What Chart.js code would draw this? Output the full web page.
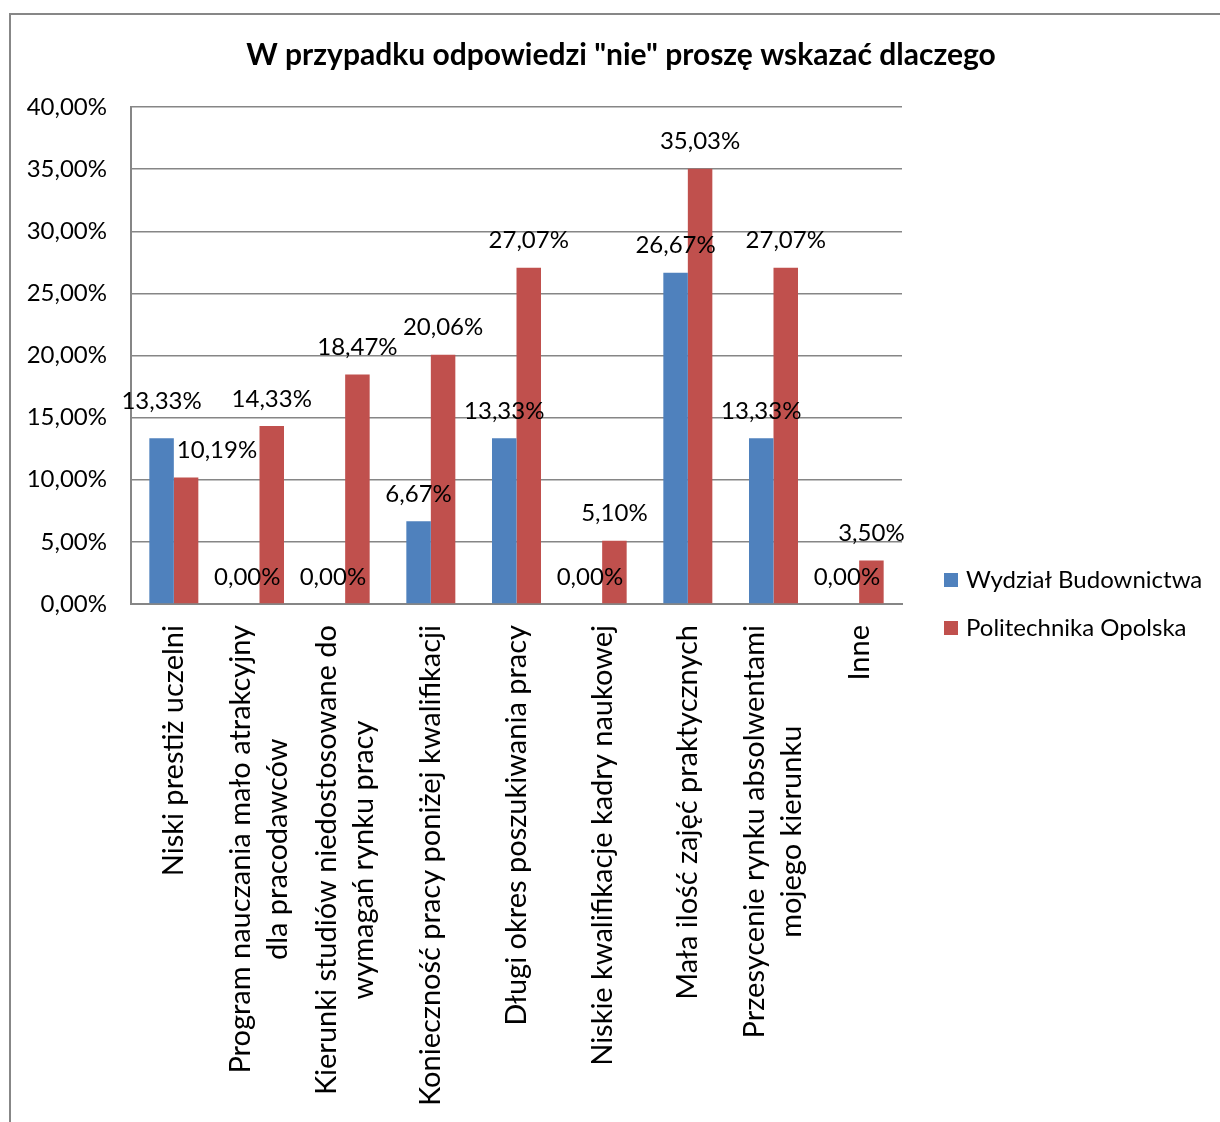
<!DOCTYPE html>
<html>
<head>
<meta charset="utf-8">
<script src="https://cdn.jsdelivr.net/npm/chart.js@4/dist/chart.umd.min.js"></script>
<style>
  html, body { margin: 0; padding: 0; background: #fff; overflow: hidden; }
  #wrap { position: relative; width: 1220px; height: 1122px; }
</style>
</head>
<body>
<div id="wrap"><canvas id="c" width="1220" height="1122"></canvas></div>
<script>
const chartTitle = 'W przypadku odpowiedzi "nie" proszę wskazać dlaczego';
const categories = [
  ['Niski prestiż uczelni'],
  ['Program nauczania mało atrakcyjny', 'dla pracodawców'],
  ['Kierunki studiów niedostosowane do', 'wymagań rynku pracy'],
  ['Konieczność pracy poniżej kwalifikacji'],
  ['Długi okres poszukiwania pracy'],
  ['Niskie kwalifikacje kadry naukowej'],
  ['Mała ilość zajęć praktycznych'],
  ['Przesycenie rynku absolwentami', 'mojego kierunku'],
  ['Inne']
];
const seriesNames = ['Wydział Budownictwa', 'Politechnika Opolska'];
const wydzialBudownictwa = [13.33, 0.00, 0.00, 6.67, 13.33, 0.00, 26.67, 13.33, 0.00];
const politechnikaOpolska = [10.19, 14.33, 18.47, 20.06, 27.07, 5.10, 35.03, 27.07, 3.50];
const yMin = 0, yMax = 40, yStep = 5;

const FONT = 'Lato, "Noto Sans", sans-serif';
const fmt = v => v.toFixed(2).replace('.', ',') + '%';

const decorPlugin = {
  id: 'decor',
  beforeDraw(chart) {
    const ctx = chart.ctx;
    ctx.save();
    ctx.fillStyle = '#878787';
    ctx.fillRect(9, 13, 1211, 2);
    ctx.fillRect(9, 13, 2, 1109);
    ctx.restore();
  },
  afterDatasetsDraw(chart) {
    const ctx = chart.ctx;
    ctx.save();
    ctx.font = '24px ' + FONT;
    ctx.fillStyle = '#000';
    ctx.textAlign = 'center';
    ctx.textBaseline = 'middle';
    const m0 = chart.getDatasetMeta(0), m1 = chart.getDatasetMeta(1);
    const n = m0.data.length;
    for (let i = 0; i < n; i++) {
      const b0 = m0.data[i], b1 = m1.data[i];
      const v0 = chart.data.datasets[0].data[i], v1 = chart.data.datasets[1].data[i];
      let x0 = b0.x, y0 = b0.y - 27;
      let x1 = b1.x, y1 = b1.y - 27;
      const w1 = ctx.measureText(fmt(v1)).width;
      // avoid covering the neighbouring bar of the first series
      const left1 = x1 - w1 / 2;
      const b0right = b0.x + b0.width / 2;
      if (left1 < b0right && y1 + 11 > b0.y) {
        x1 = b0right + 3 + w1 / 2;
        y0 -= 10;
      }
      ctx.fillText(fmt(v0), x0, y0);
      ctx.fillText(fmt(v1), x1, y1);
    }
    ctx.restore();
  },
  afterDraw(chart) {
    const ctx = chart.ctx;
    const area = chart.chartArea;
    const xs = chart.scales.x;
    ctx.save();
    // title
    ctx.font = 'bold 30px ' + FONT;
    ctx.fillStyle = '#000';
    ctx.textAlign = 'center';
    ctx.textBaseline = 'middle';
    ctx.fillText(chartTitle, 621, 55);
    // category labels
    ctx.font = '29px ' + FONT;
    const pitch = 37;
    categories.forEach((lines, i) => {
      const x = xs.getPixelForValue(i);
      let bw = 0;
      lines.forEach(l => { bw = Math.max(bw, ctx.measureText(l).width); });
      ctx.save();
      ctx.translate(x, area.bottom + 21);
      ctx.rotate(-Math.PI / 2);
      lines.forEach((l, j) => {
        ctx.fillText(l, -bw / 2, (j - (lines.length - 1) / 2) * pitch);
      });
      ctx.restore();
    });
    // legend
    ctx.font = '24px ' + FONT;
    chart.data.datasets.forEach((ds, i) => {
      const cy = area.bottom - 24 + i * 48;
      ctx.fillStyle = ds.backgroundColor;
      ctx.fillRect(area.right + 42, cy - 7, 14, 14);
      ctx.fillStyle = '#000';
      ctx.textAlign = 'left';
      ctx.fillText(ds.label, area.right + 64, cy);
    });
    ctx.restore();
  }
};

new Chart(document.getElementById('c'), {
  type: 'bar',
  data: {
    labels: categories.map(c => c.join(' ')),
    datasets: [
      { label: seriesNames[0], data: wydzialBudownictwa, backgroundColor: '#4F81BD', borderWidth: 0 },
      { label: seriesNames[1], data: politechnikaOpolska, backgroundColor: '#C0504D', borderWidth: 0 }
    ]
  },
  options: {
    responsive: false,
    animation: false,
    devicePixelRatio: 1,
    layout: { padding: { top: 107, right: 318, bottom: 0, left: 0 } },
    plugins: { legend: { display: false }, title: { display: false }, tooltip: { enabled: false } },
    datasets: { bar: { categoryPercentage: 0.572, barPercentage: 1.0 } },
    scales: {
      x: {
        grid: { display: false, drawTicks: false },
        border: { display: true, color: '#868686', width: 2 },
        ticks: { display: false },
        afterFit: s => { s.height = 518; }
      },
      y: {
        min: yMin, max: yMax,
        grid: { color: '#868686', lineWidth: 1.5, drawTicks: false },
        border: { display: true, color: '#868686', width: 2 },
        ticks: {
          stepSize: yStep,
          padding: 24,
          color: '#000',
          font: { family: FONT, size: 24 },
          callback: v => fmt(v)
        },
        afterFit: s => { s.width = 131; }
      }
    }
  },
  plugins: [decorPlugin]
});
</script>
</body>
</html>
